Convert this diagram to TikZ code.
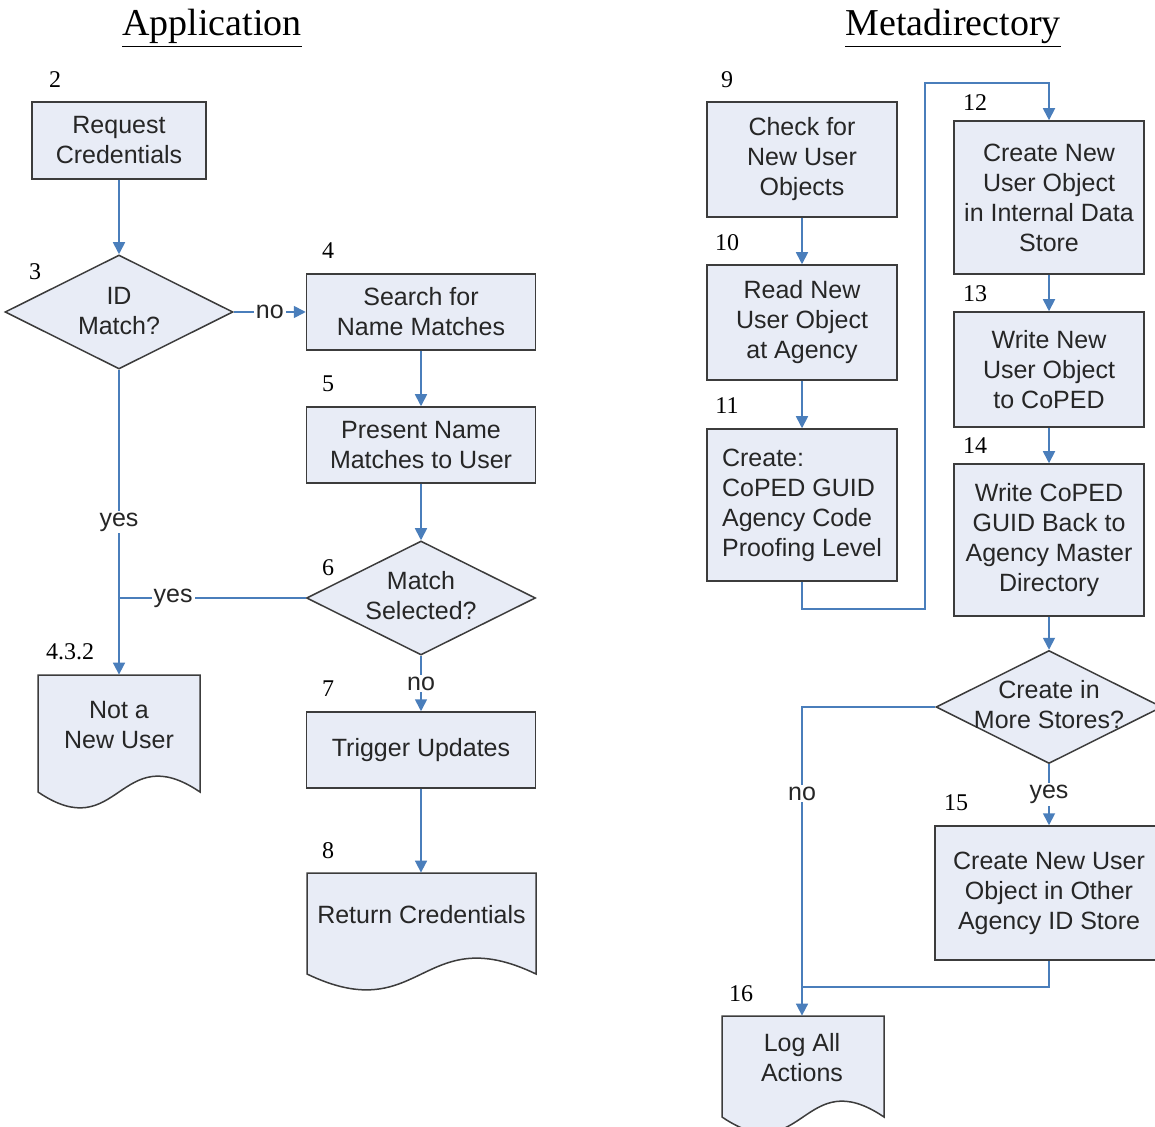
\documentclass[tikz,border=0pt]{standalone}
\usepackage{fontspec}
\setmainfont{Liberation Sans}
\newfontfamily\serifnum{Liberation Serif}
\usetikzlibrary{shapes.geometric,arrows.meta}
\definecolor{boxfill}{RGB}{232,236,246}
\definecolor{boxline}{RGB}{60,60,60}
\definecolor{flow}{RGB}{74,126,187}
\tikzset{
 procbox/.style={draw=boxline, fill=boxfill, line width=0.75pt, inner sep=0pt, align=center, font=\fontsize{12.5}{15}\selectfont, text=black!85},
 decbox/.style={diamond, draw=boxline, fill=boxfill, line width=0.75pt, inner sep=0pt},
 shp/.style={draw=none, inner sep=0pt},
 txt/.style={align=center, font=\fontsize{12.5}{15}\selectfont, inner sep=0pt, text=black!85},
 num/.style={font=\serifnum\fontsize{12}{14}\selectfont, inner sep=0pt},
 ttl/.style={font=\serifnum\fontsize{19}{22}\selectfont, inner sep=0pt},
 conn/.style={draw=flow, line width=0.85pt},
 arr/.style={conn, -{Triangle[length=6pt,width=6pt]}},
 lbl/.style={fill=white, font=\fontsize{12.5}{15}\selectfont, inner sep=1pt, text=black!85},
 docline/.style={draw=boxline, fill=boxfill, line width=0.75pt},
}
\newcommand\docpath[4]{%
 \path[docline] (#1,#2) -- (#3,#2) -- (#3,#4) .. controls ({0.5*(#1+#3)},{#4-55}) and ({0.5*(#1+#3)},{#4+55}) .. (#1,#4) -- cycle;}
\begin{document}
\begin{tikzpicture}[x=0.5pt,y=-0.5pt]
\useasboundingbox (0,0) rectangle (1155,1127);

% titles
\node[ttl] (t1) at (212,28) {\underline{Application}};
\node[ttl] (t2) at (953,28) {\underline{Metadirectory}};

% ---------- left column ----------
\node[procbox, minimum width=87pt, minimum height=38.5pt] (req) at (119,140.5) {Request\\Credentials};
\node[decbox, minimum width=114pt, minimum height=57pt] (idm) at (119,312) {};
\node[txt] (idmt) at (119,311) {ID\\Match?};
\node[procbox, minimum width=114.5pt, minimum height=38pt] (srch) at (421,312) {Search for\\Name Matches};
\node[procbox, minimum width=114.5pt, minimum height=38pt] (pres) at (421,445) {Present Name\\Matches to User};
\node[decbox, minimum width=114.5pt, minimum height=57pt] (msel) at (421,598) {};
\node[txt] (mselt) at (421,596) {Match\\Selected?};
\node[procbox, minimum width=114.5pt, minimum height=38pt] (trig) at (421,750) {Trigger Updates};

\docpath{38}{675}{200}{792}
\node[shp, minimum width=81pt, minimum height=58.5pt] (notnew) at (119,733.5) {};
\node[txt] (notnewt) at (119,725) {Not a\\New User};

\docpath{307}{873}{536}{974}
\node[shp, minimum width=114.5pt, minimum height=50.5pt] (retc) at (421,923.5) {};
\node[txt] (retct) at (421.5,915) {Return Credentials};

% numbers left
\node[num] (n2) at (55,80) {2};
\node[num] (n3) at (35,272) {3};
\node[num] (n4) at (328,251) {4};
\node[num] (n5) at (328,384) {5};
\node[num] (n6) at (328,568) {6};
\node[num] (n432) at (70,652) {4.3.2};
\node[num] (n7) at (328,689) {7};
\node[num] (n8) at (328,851) {8};

% connectors left
\draw[arr] (req.south) -- (idm.north);
\draw[arr] (idm.east) -- node[lbl] {no} (srch.west);
\draw[arr] (idm.south) -- node[lbl] {yes} (notnew.north);
\coordinate (j1) at (119,598);
\draw[conn] (msel.west) -- node[lbl, pos=0.71] {yes} (j1);
\draw[arr] (srch.south) -- (pres.north);
\draw[arr] (pres.south) -- (msel.north);
\draw[arr] (msel.south) -- node[lbl] {no} (trig.north);
\draw[arr] (trig.south) -- (retc.north);

% ---------- right column ----------
\node[procbox, minimum width=95pt, minimum height=57.5pt] (chk) at (802,159.5) {Check for\\New User\\Objects};
\node[procbox, minimum width=95pt, minimum height=57.5pt] (read) at (802,322.5) {Read New\\User Object\\at Agency};
\node[procbox, minimum width=95pt, minimum height=76pt, align=left] (crt) at (802,505) {Create:\\CoPED GUID\\Agency Code\\Proofing Level};
\node[procbox, minimum width=95pt, minimum height=76.5pt] (cnew) at (1049,197.5) {Create New\\User Object\\in Internal Data\\Store};
\node[procbox, minimum width=95pt, minimum height=57.5pt] (wnew) at (1049,369.5) {Write New\\User Object\\to CoPED};
\node[procbox, minimum width=95pt, minimum height=76pt] (wguid) at (1049,540) {Write CoPED\\GUID Back to\\Agency Master\\Directory};
\node[decbox, minimum width=113pt, minimum height=56.5pt] (more) at (1049,707) {};
\node[txt] (moret) at (1049,705) {Create in\\More Stores?};
\node[procbox, minimum width=114pt, minimum height=67pt] (cother) at (1049,893) {Create New User\\Object in Other\\Agency ID Store};

\docpath{722}{1016}{884}{1117}
\node[shp, minimum width=81pt, minimum height=50.5pt] (log) at (802,1066.5) {};
\node[txt] (logt) at (802,1058) {Log All\\Actions};

% numbers right
\node[num] (n9) at (727,80) {9};
\node[num] (n10) at (727,243) {10};
\node[num] (n11) at (727,406) {11};
\node[num] (n12) at (975,103) {12};
\node[num] (n13) at (975,294) {13};
\node[num] (n14) at (975,446) {14};
\node[num] (n15) at (956,803) {15};
\node[num] (n16) at (741,994) {16};

% connectors right
\draw[arr] (chk.south) -- (read.north);
\draw[arr] (read.south) -- (crt.north);
\coordinate (r1) at (925,609);
\coordinate (r2) at (925,83);
\draw[arr] (crt.south) |- (r1) -- (r2) -| (cnew.north);
\draw[arr] (cnew.south) -- (wnew.north);
\draw[arr] (wnew.south) -- (wguid.north);
\draw[arr] (wguid.south) -- (more.north);
\draw[arr] (more.west) -| node[lbl, pos=0.64] {no} (log.north);
\draw[arr] (more.south) -- node[lbl] {yes} (cother.north);
\coordinate (j2) at (802,987);
\draw[conn] (cother.south) |- (j2);
\end{tikzpicture}
\end{document}
